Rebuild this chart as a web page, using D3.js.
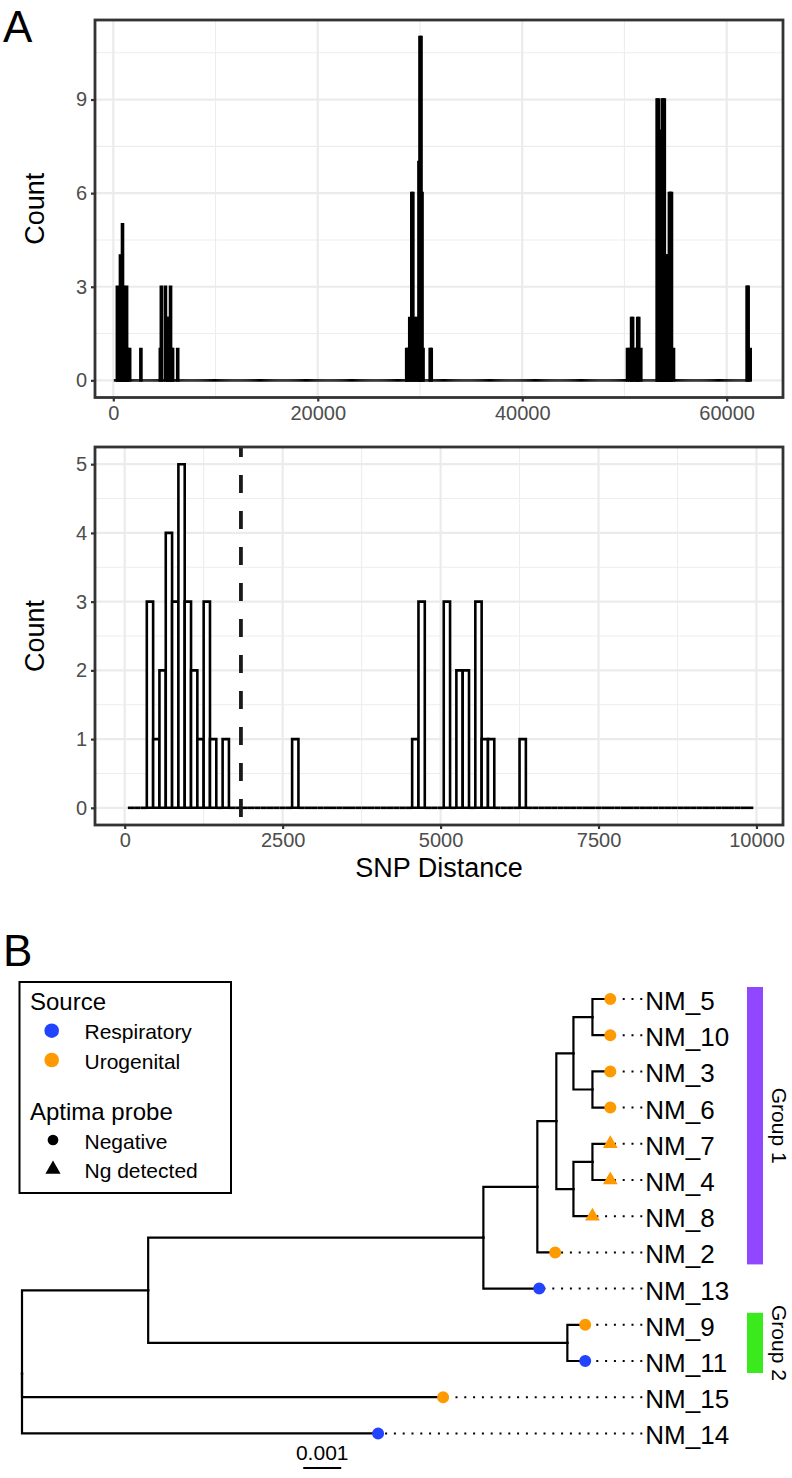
<!DOCTYPE html>
<html><head><meta charset="utf-8">
<script src="https://cdn.jsdelivr.net/npm/d3@7"></script>
<style>
body{margin:0;background:#fff}
svg{display:block}
text{font-family:"Liberation Sans",Arial,Helvetica,sans-serif}
</style>
</head><body>
<svg id="c" width="792" height="1478"></svg>
<script>
// ---------------- DATA ----------------
const binWidth = 100;                 // SNP-distance histogram bin width
// non-empty bins (bin centres) and their counts
const binCenters = [400,500,600,700,800,900,1000,1100,1200,1300,1400,1600,2700,
  4600,4700,5100,5300,5400,5600,5700,5800,6300,
  28700,28800,29000,29200,29300,29500,29700,29900,30000,30100,30200,30300,31000,31100,
  50300,50500,50700,50800,51000,51200,51300,51400,51600,
  53200,53300,53400,53500,53600,53700,53800,53900,54000,54100,54200,54400,54500,54600,54800,
  62000,62100,62300];
const binCounts = [3,1,2,4,3,5,3,2,1,3,1,1,1,
  1,3,3,2,2,3,1,1,1,
  1,1,2,6,6,2,2,7,11,11,6,1,1,1,
  1,1,2,2,1,1,2,2,1,
  9,9,7,8,7,9,9,9,4,4,4,6,6,6,1,
  3,3,1];
const zoomLimit = 10000;              // lower panel: distances below this
const clusterCutoff = 1840;           // dashed threshold line
const topXLimits = [-1790, 65510];
const botXLimits = [-470, 10420];
const topXTicks = [0,20000,40000,60000];
const topXMinor = [10000,30000,50000];
const topYTicks = [0,3,6,9];
const topYMinor = [1.5,4.5,7.5,10.5];
const botXTicks = [0,2500,5000,7500,10000];
const botXMinor = [1250,3750,6250,8750];
const botYTicks = [0,1,2,3,4,5];
const botYMinor = [0.5,1.5,2.5,3.5,4.5];

// phylogeny (substitutions/site)
const treeNewick = "((((((((NM_5:0.00047,NM_10:0.00047):0.0005,(NM_3:0.00047,NM_6:0.00047):0.0005):0.00045,((NM_7:0.00047,NM_4:0.00047):0.0005,NM_8:0.0005):0.00045):0.0005,NM_2:0.00047):0.00142,NM_13:0.00147):0.00882,(NM_9:0.00047,NM_11:0.00047):0.01103):0.00332,NM_15:0.01108,NM_14:0.00937);";
const tipNames  = ["NM_5","NM_10","NM_3","NM_6","NM_7","NM_4","NM_8","NM_2","NM_13","NM_9","NM_11","NM_15","NM_14"];
const tipSource = ["Urogenital","Urogenital","Urogenital","Urogenital","Urogenital","Urogenital","Urogenital","Urogenital","Respiratory","Urogenital","Respiratory","Urogenital","Respiratory"];
const tipProbe  = ["Negative","Negative","Negative","Negative","Ng detected","Ng detected","Ng detected","Negative","Negative","Negative","Negative","Negative","Negative"];
const sourceLevels = ["Respiratory","Urogenital"];
const sourceColors = ["#2244FF","#FF9900"];
const probeLevels = ["Negative","Ng detected"];
const groupNames = ["Group 1","Group 2"];
const groupFirstTip = ["NM_5","NM_9"];
const groupLastTip = ["NM_2","NM_11"];
const groupColors = ["#9146FF","#3BEA1C"];
const scaleBarLength = 0.001;
const scaleBarAt = 0.0074;

// ---------------- DRAW ----------------
const svg = d3.select("#c");
const FONT = '"Liberation Sans",Arial,Helvetica,sans-serif';
const countOf = new Map(binCenters.map((c,i)=>[c,binCounts[i]]));

function allBins(lo, hi){ // every bin centre between lo and hi (inclusive)
  return d3.range(lo, hi + 1, binWidth).map(c=>({c, n: countOf.get(c) || 0}));
}
function expand(a,b,m){ const d=(b-a)*m; return [a-d,b+d]; }

function histPanel(o){
  const bins = allBins(o.first, o.last);
  const x = d3.scaleLinear().domain(o.xLimits).range([o.left,o.right]);
  const yMax = d3.max(bins,d=>d.n);
  const y = d3.scaleLinear().domain(expand(0,yMax,0.05)).range([o.bottom,o.top]);
  const g = svg.append("g");
  const clipId = "clip"+o.id;
  svg.append("clipPath").attr("id",clipId).append("rect")
    .attr("x",o.left).attr("y",o.top).attr("width",o.right-o.left).attr("height",o.bottom-o.top);
  const pg = g.append("g").attr("clip-path",`url(#${clipId})`);
  // grid
  pg.selectAll(".gxm").data(o.xMinor).join("line").attr("x1",d=>x(d)).attr("x2",d=>x(d))
    .attr("y1",o.top).attr("y2",o.bottom).attr("stroke","#EDEDED").attr("stroke-width",1.1);
  pg.selectAll(".gym").data(o.yMinor).join("line").attr("y1",d=>y(d)).attr("y2",d=>y(d))
    .attr("x1",o.left).attr("x2",o.right).attr("stroke","#EDEDED").attr("stroke-width",1.1);
  pg.selectAll(".gx").data(o.xTicks).join("line").attr("x1",d=>x(d)).attr("x2",d=>x(d))
    .attr("y1",o.top).attr("y2",o.bottom).attr("stroke","#EBEBEB").attr("stroke-width",2.2);
  pg.selectAll(".gy").data(o.yTicks).join("line").attr("y1",d=>y(d)).attr("y2",d=>y(d))
    .attr("x1",o.left).attr("x2",o.right).attr("stroke","#EBEBEB").attr("stroke-width",2.2);
  // bars
  pg.selectAll(".bar").data(bins).join("path")
    .attr("d",d=>{const x0=x(d.c-binWidth/2), x1=x(d.c+binWidth/2), y0=y(0), y1=y(d.n);
      return d.n>0 ? `M${x0},${y0}V${y1}H${x1}V${y0}Z` : `M${x0},${y0}H${x1}`;})
    .attr("fill","#fff").attr("stroke","#000").attr("stroke-width",2.6);
  if(o.vline!==undefined){
    pg.append("line").attr("x1",x(o.vline)).attr("x2",x(o.vline)).attr("y1",o.top).attr("y2",o.bottom)
      .attr("stroke","#1a1a1a").attr("stroke-width",3.8).attr("stroke-dasharray","18 18").attr("stroke-dashoffset",8);
  }
  // axes
  const ax = g.append("g").attr("transform",`translate(0,${o.bottom})`)
    .call(d3.axisBottom(x).tickValues(o.xTicks).tickFormat(d3.format("d")).tickSize(4).tickPadding(4));
  const ay = g.append("g").attr("transform",`translate(${o.left},0)`)
    .call(d3.axisLeft(y).tickValues(o.yTicks).tickFormat(d3.format("d")).tickSize(4).tickPadding(4));
  [ax,ay].forEach(a=>{
    a.select(".domain").remove();
    a.selectAll(".tick line").attr("stroke","#333").attr("stroke-width",2.2);
    a.selectAll(".tick text").attr("fill","#4D4D4D").style("font-size","20px").style("font-family",FONT);
  });
  // border
  g.append("rect").attr("x",o.left).attr("y",o.top).attr("width",o.right-o.left).attr("height",o.bottom-o.top)
    .attr("fill","none").attr("stroke","#333").attr("stroke-width",2.8);
  // y title
  g.append("text").attr("transform",`translate(${o.yTitleX},${(o.top+o.bottom)/2}) rotate(-90)`)
    .attr("text-anchor","middle").style("font-size","27px").attr("fill","#000").text("Count");
  return {x,y};
}

histPanel({id:"A", first:100, last:62300, xLimits:topXLimits, left:95, right:783, top:20, bottom:397.5,
  xTicks:topXTicks, xMinor:topXMinor, yTicks:topYTicks, yMinor:topYMinor, yTitleX:44});
histPanel({id:"B", first:100, last:zoomLimit-binWidth, xLimits:botXLimits, left:95, right:783, top:447, bottom:825,
  xTicks:botXTicks, xMinor:botXMinor, yTicks:botYTicks, yMinor:botYMinor, yTitleX:44, vline:clusterCutoff});

svg.append("text").attr("x",439).attr("y",877).attr("text-anchor","middle").style("font-size","27px").text("SNP Distance");
svg.append("text").attr("x",3).attr("y",42).style("font-size","44px").text("A");
svg.append("text").attr("x",3).attr("y",966).style("font-size","44px").text("B");

// ---------------- TREE ----------------
function parseNewick(s){
  let i=0;
  function node(){
    const n={};
    if(s[i]==='('){ i++; n.children=[];
      n.children.push(node());
      while(s[i]===','){ i++; n.children.push(node()); }
      i++; }
    let name=''; while(i<s.length && !':,);'.includes(s[i])) name+=s[i++];
    n.name=name;
    let len=''; if(s[i]===':'){ i++; while(i<s.length && !',);'.includes(s[i])) len+=s[i++]; }
    n.length = len===''?0:+len;
    return n;
  }
  return node();
}
const root = d3.hierarchy(parseNewick(treeNewick));
root.eachBefore(d=>{ d.dist = d.parent ? d.parent.dist + d.data.length : 0; });
const leaves = root.leaves();
const maxDist = d3.max(leaves,d=>d.dist);
const xT = d3.scaleLinear().domain([0,maxDist]).range([22,610.3]);
const yT = d3.scaleLinear().domain([0,leaves.length-1]).range([999,1433.4]);
leaves.forEach((d,i)=>{ d.py = yT(i); });
root.eachAfter(d=>{ if(d.children) d.py = d3.mean(d.children,c=>c.py); });
const tg = svg.append("g");
root.descendants().filter(d=>d.parent).forEach(d=>{
  tg.append("path").attr("d",`M${xT(d.parent.dist)},${d.parent.py}V${d.py}H${xT(d.dist)}`)
    .attr("fill","none").attr("stroke","#000").attr("stroke-width",2.2).attr("stroke-linecap","square");
});
const labelX = xT(maxDist)+35;
const colorScale = d3.scaleOrdinal().domain(sourceLevels).range(sourceColors);
const shapeScale = d3.scaleOrdinal().domain(probeLevels).range([d3.symbolCircle, d3.symbolTriangle]);
const sizeScale = d3.scaleOrdinal().domain(probeLevels).range([113, 95]);
leaves.forEach(d=>{
  const k = tipNames.indexOf(d.data.name);
  const tx = xT(d.dist);
  tg.append("line").attr("x1",labelX-3).attr("x2",tx).attr("y1",d.py).attr("y2",d.py)
    .attr("stroke","#000").attr("stroke-width",2).attr("stroke-dasharray","2 6.8");
  tg.append("path").attr("d",d3.symbol().type(shapeScale(tipProbe[k])).size(sizeScale(tipProbe[k]))())
    .attr("transform",`translate(${tx},${d.py})`).attr("fill",colorScale(tipSource[k]));
  tg.append("text").attr("x",labelX).attr("y",d.py+11).style("font-size","26px").text(d.data.name);
});
// group strips
groupNames.forEach((gName,i)=>{
  const a = leaves.find(l=>l.data.name===groupFirstTip[i]).py;
  const b = leaves.find(l=>l.data.name===groupLastTip[i]).py;
  tg.append("rect").attr("x",747).attr("y",a-12).attr("width",16).attr("height",b-a+24).attr("fill",groupColors[i]);
  tg.append("text").attr("transform",`translate(772,${(a+b)/2}) rotate(90)`)
    .attr("text-anchor","middle").style("font-size","21px").text(gName);
});
// scale bar
const sb0 = xT(scaleBarAt), sb1 = xT(scaleBarAt+scaleBarLength);
tg.append("line").attr("x1",sb0).attr("x2",sb1).attr("y1",1468).attr("y2",1468).attr("stroke","#000").attr("stroke-width",2.2);
tg.append("text").attr("x",(sb0+sb1)/2).attr("y",1460).attr("text-anchor","middle").style("font-size","21px").text(d3.format(".3f")(scaleBarLength));

// ---------------- LEGEND ----------------
const lg = svg.append("g");
lg.append("rect").attr("x",19.5).attr("y",982).attr("width",211.5).attr("height",211).attr("fill","#fff").attr("stroke","#000").attr("stroke-width",2);
lg.append("text").attr("x",30).attr("y",1010).style("font-size","24px").text("Source");
sourceLevels.forEach((s,i)=>{
  const yy = 1030.7 + i*29.3;
  lg.append("circle").attr("cx",51.7).attr("cy",yy).attr("r",7.3).attr("fill",colorScale(s));
  lg.append("text").attr("x",84.5).attr("y",yy+8.6).style("font-size","21px").text(s);
});
lg.append("text").attr("x",30).attr("y",1120).style("font-size","24px").text("Aptima probe");
probeLevels.forEach((p,i)=>{
  const yy = 1140 + i*29.3;
  lg.append("path").attr("d",d3.symbol().type(shapeScale(p)).size(i?100:90)())
    .attr("transform",`translate(53,${yy})`).attr("fill","#000");
  lg.append("text").attr("x",84.5).attr("y",yy+8.6).style("font-size","21px").text(p);
});
</script>
</body></html>
